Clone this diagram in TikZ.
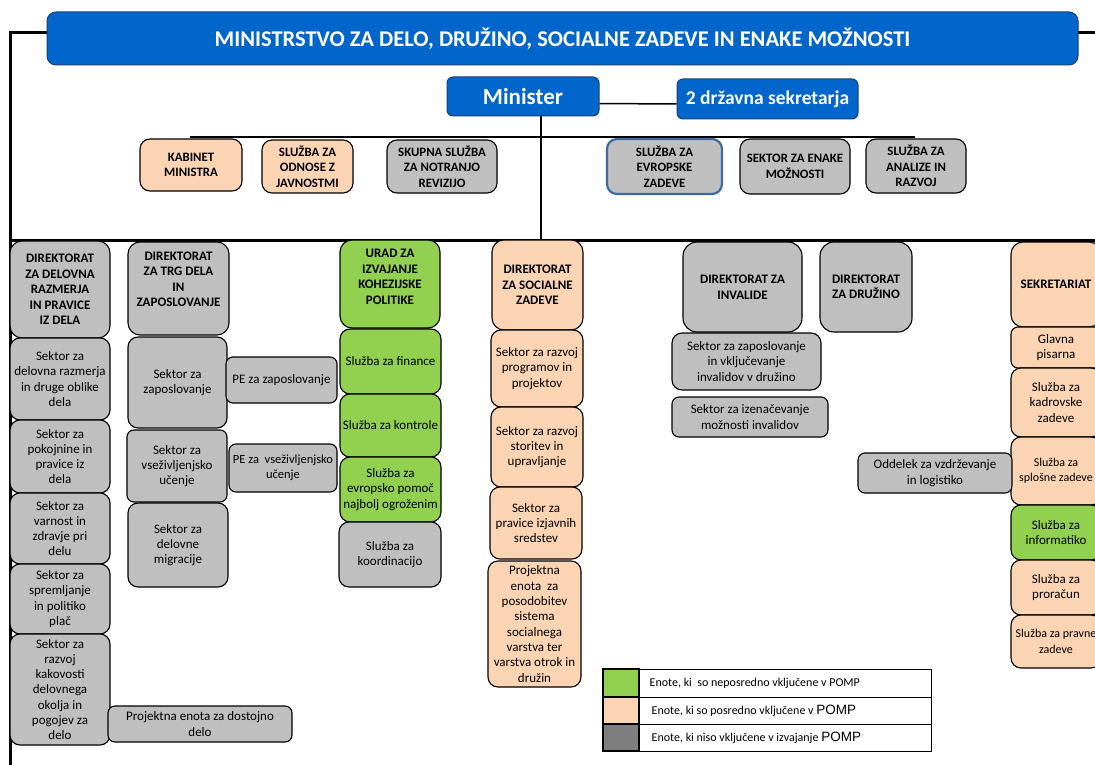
\documentclass[tikz,border=0pt]{standalone}
\usepackage{fontspec}
\setmainfont{Carlito}
\newfontfamily\arialf{Liberation Sans}
\definecolor{titleblue}{HTML}{0066CC}
\definecolor{titleedge}{HTML}{1F3F6F}
\definecolor{evblue}{HTML}{3F6A9F}
\definecolor{peach}{HTML}{FBD4B4}
\definecolor{greenA}{HTML}{92D050}
\definecolor{boxgray}{HTML}{BFBFBF}
\definecolor{leggray}{HTML}{7F7F7F}
\newcommand{\ubox}[7]{\node[#6, minimum width={(#4)-(#2)}, minimum height={(#5)-(#3)}] (#1) at ({((#2)+(#4))/2},{((#3)+(#5))/2}) {#7};}
\newcommand{\lifted}[2]{\begin{tabular}{@{}c@{}}#2\\[#1]\end{tabular}}
\begin{document}
\begin{tikzpicture}[x=1pt,y=-1pt,
  bx/.style={draw=black, line width=1.1pt, rounded corners=10pt, align=center, inner sep=0pt, font=\fontsize{13}{15.3}\selectfont},
  hd/.style={bx, font=\fontsize{13}{15.5}\selectfont\bfseries},
  sv/.style={bx, font=\fontsize{12.8}{15.5}\selectfont\bfseries},
  small/.style={rounded corners=7pt},
  gr/.style={fill=boxgray}, pe/.style={fill=peach}, gn/.style={fill=greenA},
  blue/.style={draw=titleedge, line width=1pt, fill=titleblue, text=white, rounded corners=9pt, align=center, inner sep=0pt},
  thk/.style={line width=3pt, draw=black},
  thn/.style={line width=1.5pt, draw=black},
  legsq/.style={draw=black, line width=1.5pt, inner sep=0pt},
  legtx/.style={draw=black, line width=1pt, inner sep=0pt},
  legt/.style={anchor=west, inner sep=0pt, font=\fontsize{12}{14}\selectfont}]
\useasboundingbox (0,0) rectangle (1095,765);
\clip (0,0) rectangle (1095,765);
\fill[white] (0,0) rectangle (1095,765);

% frame coordinates
\coordinate (tl) at (10,33);
\coordinate (bl) at (10,765);
\coordinate (tr) at (1095,33);
\coordinate (hl) at (10,240);
\coordinate (hr) at (1095,240);
\coordinate (sl) at (190,137);
\coordinate (sr) at (915,137);
\coordinate (mv) at (541,116);
\coordinate (mh) at (541,240);

\draw[thk] (tr) -- (tl) -- (bl);
\draw[thk] (hl) -- (hr);
\draw[thn] (sl) -- (sr);
\draw[thn] (mv) -- (mh);

% top
\ubox{title}{47}{12}{1078}{65}{blue,font=\fontsize{22.5}{26}\selectfont\bfseries}{MINISTRSTVO ZA DELO, DRUŽINO, SOCIALNE ZADEVE IN ENAKE MOŽNOSTI}
\ubox{min}{447}{77}{599}{116}{blue,rounded corners=6pt,font=\fontsize{23}{26}\selectfont\bfseries}{Minister}
\ubox{sek}{677}{79}{858}{119}{blue,rounded corners=6pt,font=\fontsize{19.5}{22}\selectfont\bfseries}{2 državna sekretarja}
\draw[thn] ([yshift=-7pt]min.east) -- ([yshift=-5pt]sek.west);

% services row
\ubox{kab}{140}{139}{242}{191}{sv,pe}{KABINET\\MINISTRA}
\ubox{odn}{262}{140}{353}{193}{sv,pe}{SLUŽBA ZA\\ODNOSE Z\\JAVNOSTMI}
\ubox{rev}{387}{140}{497}{193}{sv,gr}{SKUPNA SLUŽBA\\ZA NOTRANJO\\REVIZIJO}
\ubox{evr}{607}{139}{722}{194}{sv,gr,draw=evblue,line width=2.2pt}{SLUŽBA ZA\\EVROPSKE\\ZADEVE}
\ubox{enk}{740}{139}{850}{194}{sv,gr}{SEKTOR ZA ENAKE\\MOŽNOSTI}
\ubox{ana}{866}{139}{966}{193}{sv,gr}{SLUŽBA ZA\\ANALIZE IN\\RAZVOJ}

% column 1
\ubox{d1}{10}{241}{110}{338}{hd,gr,rounded corners=12pt}{DIREKTORAT\\ZA DELOVNA\\RAZMERJA\\IN PRAVICE\\IZ DELA}
\ubox{d1a}{10}{338}{110}{420}{bx,gr}{Sektor za\\delovna razmerja\\in druge oblike\\dela}
\ubox{d1b}{10}{420}{110}{493}{bx,gr}{Sektor za\\pokojnine in\\pravice iz\\dela}
\ubox{d1c}{10}{493}{110}{564}{bx,gr}{Sektor za\\varnost in\\zdravje pri\\delu}
\ubox{d1d}{10}{564}{110}{634}{bx,gr}{Sektor za\\spremljanje\\in politiko\\plač}
\ubox{d1e}{10}{634}{110}{745}{bx,gr}{Sektor za\\razvoj\\kakovosti\\delovnega\\okolja in\\pogojev za\\delo}
\ubox{d1p}{108}{706}{292}{742}{bx,gr,small}{Projektna enota za dostojno\\delo}

% column 2
\ubox{d2}{128}{242}{229}{335}{hd,gr,rounded corners=12pt}{\lifted{16pt}{DIREKTORAT\\ZA TRG DELA\\IN\\ZAPOSLOVANJE}}
\ubox{d2a}{128}{337}{227}{428}{bx,gr}{Sektor za\\zaposlovanje}
\ubox{d2b}{127}{430}{227}{502}{bx,gr,small}{Sektor za\\vseživljenjsko\\učenje}
\ubox{d2c}{128}{503}{228}{587}{bx,gr}{Sektor za\\delovne\\migracije}
\ubox{d2p1}{226}{357}{337}{403}{bx,gr,small}{PE za zaposlovanje}
\ubox{d2p2}{229}{444}{337}{492}{bx,gr,small,font=\fontsize{12.5}{15}\selectfont}{PE za~~vseživljenjsko\\učenje}

% column 3
\ubox{d3}{340}{240}{440}{328}{hd,gn,rounded corners=12pt}{\lifted{12pt}{URAD ZA\\IZVAJANJE\\KOHEZIJSKE\\POLITIKE}}
\ubox{d3a}{340}{329}{441}{394}{bx,gn}{Služba za finance}
\ubox{d3b}{340}{394}{441}{457}{bx,gn}{Služba za kontrole}
\ubox{d3c}{340}{457}{441}{522}{bx,gn}{Služba za\\evropsko pomoč\\najbolj ogroženim}
\ubox{d3d}{339}{522}{441}{587}{bx,gr}{Služba za\\koordinacijo}

% column 4
\ubox{d4}{492}{240}{583}{330}{hd,pe,rounded corners=12pt}{DIREKTORAT\\ZA SOCIALNE\\ZADEVE}
\ubox{d4a}{491}{330}{583}{407}{bx,pe}{Sektor za razvoj\\programov in\\projektov}
\ubox{d4b}{491}{407}{583}{487}{bx,pe}{Sektor za razvoj\\storitev in\\upravljanje}
\ubox{d4c}{490}{487}{582}{559}{bx,pe}{Sektor za\\pravice izjavnih\\sredstev}
\ubox{d4d}{488}{561}{581}{687}{bx,pe}{Projektna\\enota~~za\\posodobitev\\sistema\\socialnega\\varstva ter\\varstva otrok in\\družin}

% column 5 and 6
\ubox{d5}{683}{242}{802}{332}{hd,gr,rounded corners=14pt}{DIREKTORAT ZA\\INVALIDE}
\ubox{d5a}{672}{333}{821}{390}{bx,gr}{Sektor za zaposlovanje\\in vključevanje\\invalidov v družino}
\ubox{d5b}{672}{397}{828}{437}{bx,gr,small}{Sektor za izenačevanje\\možnosti invalidov}
\ubox{d6}{820}{242}{912}{332}{hd,gr,rounded corners=14pt}{DIREKTORAT\\ZA DRUŽINO}

% secretariat
\ubox{d7}{1011}{242}{1101}{327}{hd,pe,rounded corners=12pt}{SEKRETARIAT}
\ubox{d7a}{1011}{327}{1101}{368}{bx,pe,small}{Glavna\\pisarna}
\ubox{d7b}{1011}{368}{1101}{437}{bx,pe}{Služba za\\kadrovske\\zadeve}
\ubox{d7c}{1011}{437}{1101}{505}{bx,pe,font=\fontsize{12}{15.3}\selectfont}{Služba za\\splošne zadeve}
\ubox{d7d}{1011}{505}{1101}{560}{bx,gn}{Služba za\\informatiko}
\ubox{d7e}{1011}{560}{1101}{615}{bx,pe}{Služba za\\proračun}
\ubox{d7f}{1011}{615}{1101}{668}{bx,pe,font=\fontsize{12}{15.3}\selectfont}{Služba za pravne\\zadeve}
\ubox{d7o}{858}{453}{1012}{493}{bx,gr,small}{Oddelek za vzdrževanje\\in logistiko}

% legend
\ubox{lg1}{603}{669}{639}{697}{legsq,fill=greenA}{}
\ubox{lg2}{603}{697}{639}{724}{legsq,fill=peach}{}
\ubox{lg3}{603}{724}{639}{751}{legsq,fill=leggray}{}
\ubox{lt1}{639}{669}{931}{697}{legtx}{}
\ubox{lt2}{639}{697}{931}{724}{legtx}{}
\ubox{lt3}{639}{724}{931}{751}{legtx}{}
\node[legt] (lx1) at ([xshift=11pt]lt1.west) {Enote, ki~~so neposredno vključene v POMP};
\node[legt] (lx2) at ([xshift=13pt]lt2.west) {Enote, ki so posredno vključene v {\arialf\fontsize{13.5}{14}\selectfont POMP}};
\node[legt] (lx3) at ([xshift=13pt]lt3.west) {Enote, ki niso vključene v izvajanje {\arialf\fontsize{13.5}{14}\selectfont POMP}};
\end{tikzpicture}
\end{document}
